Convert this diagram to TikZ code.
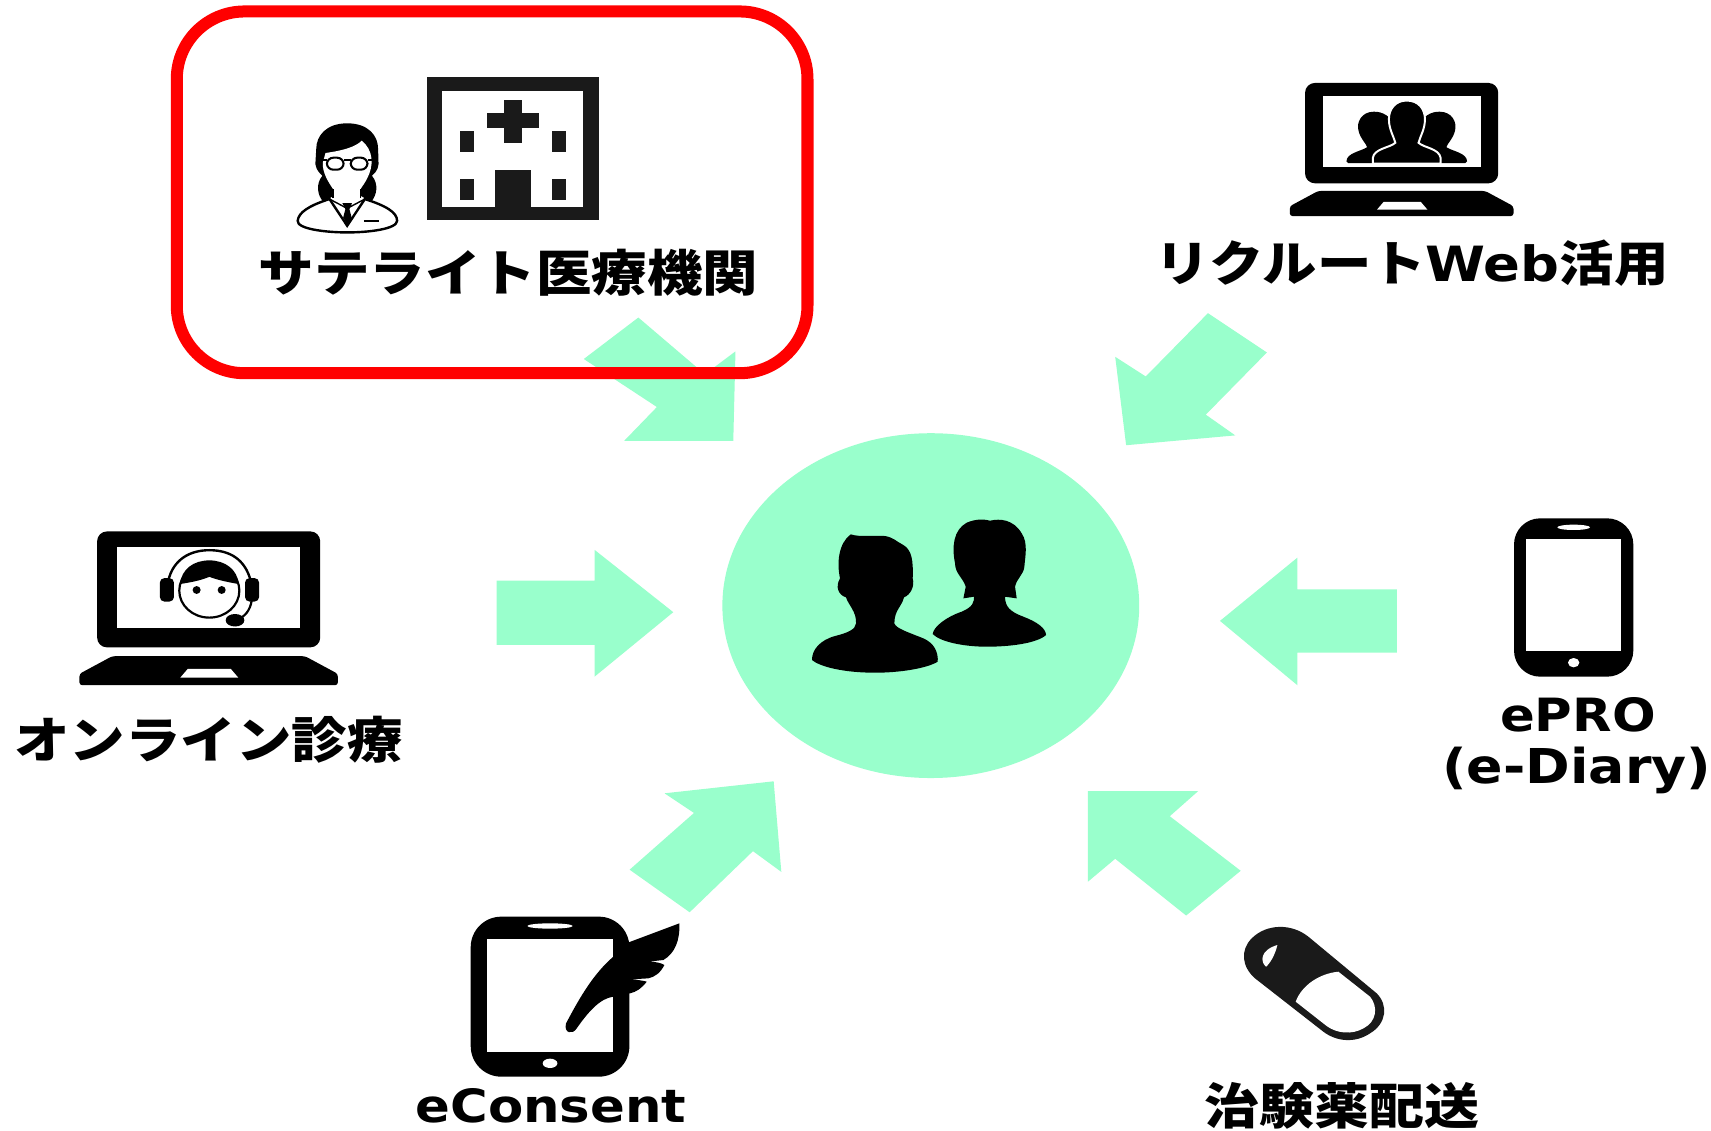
\documentclass[tikz,border=0pt]{standalone}
\usepackage{fontspec}
\usetikzlibrary{shapes.geometric}
\newfontfamily\jpf{Noto Sans CJK JP}[FakeStretch=1.12]
\newfontfamily\laf{DejaVu Sans}[FakeStretch=1.12]
\definecolor{mint}{HTML}{99FFCC}
\definecolor{ink}{HTML}{1A1A1A}
\tikzset{
  blockarrow/.style={fill=mint,draw=none},
  hub/.style={ellipse,fill=mint,draw=none,inner sep=0pt,minimum width=382pt,minimum height=316pt},
  framebox/.style={draw=red,line width=11pt,rounded corners=62pt},
  jplabel/.style={inner sep=0pt,font=\jpf\bfseries\fontsize{45.4}{50}\selectfont,text=black},
  jpmid/.style={inner sep=0pt,font=\jpf\bfseries\fontsize{45}{50}\selectfont,text=black},
  jpsmall/.style={inner sep=0pt,font=\jpf\bfseries\fontsize{44.5}{48}\selectfont,text=black},
  latinlabel/.style={inner sep=0pt,font=\laf\bfseries\fontsize{42}{46}\selectfont,text=black},
  latinwide/.style={inner sep=0pt,font=\laf\bfseries\fontsize{44}{48}\selectfont,text=black},
}
\newcommand{\laptopicon}[3]{%
  \begin{scope}[shift={(#1,#2)},scale=#3]
    \fill[black,rounded corners=9pt] (0,0) rectangle (177,92);
    \fill[white] (16,12) rectangle (161,77);
    \fill[black,rounded corners=2.5pt] (12,99) -- (165,99) -- (191,113) -- (191,122) -- (-14,122) -- (-14,113) -- cycle;
    \fill[white] (72,109) -- (106,109) -- (112,116) -- (66,116) -- cycle;
  \end{scope}}
\begin{document}
\begin{tikzpicture}[x=1pt,y=-1pt]
\useasboundingbox (0,0) rectangle (1568,1035.6);
\fill[white] (0,0) rectangle (1568,1035.6);
% block arrows
\fill[blockarrow] (585,291) -- (646,343) -- (674,322) -- (672,404) -- (572,404) -- (602,373) -- (535,329) -- cycle;
\fill[blockarrow] (1107,287) -- (1161,323) -- (1105,380) -- (1132,399) -- (1032,408) -- (1022,327) -- (1050,345) -- cycle;
\fill[blockarrow] (455,532) -- (545,532) -- (545,504) -- (617,561) -- (545,620) -- (545,591) -- (455,591) -- cycle;
\fill[blockarrow] (1280,540) -- (1189,540) -- (1189,511) -- (1118,569) -- (1189,628) -- (1189,598) -- (1280,598) -- cycle;
\fill[blockarrow] (577,797) -- (632,836) -- (690,780) -- (716,799) -- (709,716) -- (609,727) -- (636,745) -- cycle;
\fill[blockarrow] (1137,798) -- (1087,839) -- (1022,787) -- (997,808) -- (997,725) -- (1098,725) -- (1072,748) -- cycle;
% centre
\node[hub] (centre) at (853,555) {};
\begin{scope}[shift={(696.5,439.9)},x=.3055pt,y=-.3055pt]
\fill[black] (272,163) .. controls (300,172) and (340,165) .. (375,168) .. controls (400,172) and (410,185) .. (430,195) .. controls (455,210) and (460,240) .. (458,295) .. controls (465,320) and (450,345) .. (432,352) .. controls (425,380) and (403,390) .. (403,430) .. controls (408,445) and (440,455) .. (490,475) .. controls (525,490) and (535,520) .. (533,545) .. controls (500,565) and (420,578) .. (345,578) .. controls (250,578) and (180,560) .. (156,540) .. controls (155,510) and (180,480) .. (225,468) .. controls (265,458) and (286,448) .. (288,430) .. controls (290,395) and (265,375) .. (258,352) .. controls (235,345) and (225,320) .. (240,295) .. controls (230,250) and (235,190) .. (272,163) -- cycle;
\fill[black] (690,122) .. controls (720,115) and (760,118) .. (785,160) .. controls (805,190) and (795,230) .. (793,260) .. controls (790,285) and (770,295) .. (765,320) -- (770,355) -- (735,350) .. controls (735,380) and (750,395) .. (790,410) .. controls (830,425) and (858,445) .. (858,465) .. controls (830,490) and (750,500) .. (680,500) .. controls (610,500) and (540,485) .. (518,462) .. controls (520,440) and (560,410) .. (605,395) .. controls (640,380) and (642,365) .. (642,350) -- (610,355) -- (617,320) .. controls (610,295) and (585,280) .. (585,250) .. controls (575,200) and (580,150) .. (620,128) .. controls (650,115) and (675,118) .. (690,122) -- cycle;
\end{scope}
% red frame
\draw[framebox] (162,10.5) rectangle (740,342);
% hospital
\fill[ink] (391,71) rectangle (549,202);
\fill[white] (405.5,83) rectangle (534.5,190);
\fill[ink] (446.5,104) rectangle (493.5,117);
\fill[ink] (461.5,92) rectangle (478.5,131);
\fill[ink] (421.5,120.5) rectangle (434,139);
\fill[ink] (506,120.5) rectangle (518.5,139);
\fill[ink] (421.5,164) rectangle (434,183);
\fill[ink] (506,164) rectangle (518.5,183);
\fill[ink] (453.5,156) rectangle (486.5,191);
% doctor
\begin{scope}[shift={(143.2,-1.06)},x=.405pt,y=-.3058pt]
\draw[fill=white,draw=black,line width=2.2pt] (320,665) .. controls (322,640) and (345,620) .. (392,600) -- (432,680) -- (472,600) .. controls (520,620) and (545,640) .. (545,665) .. controls (545,690) and (480,700) .. (432,700) .. controls (385,700) and (318,690) .. (320,665) -- cycle;
\fill[black] (432,373) .. controls (385,373) and (362,410) .. (362,450) -- (360,495) .. controls (362,515) and (372,525) .. (376,530) .. controls (360,555) and (365,590) .. (378,608) -- (402,590) .. controls (405,570) and (395,545) .. (396,530) -- (468,530) .. controls (470,545) and (460,570) .. (462,590) -- (486,608) .. controls (499,590) and (504,555) .. (488,530) .. controls (492,525) and (502,515) .. (503,495) -- (502,450) .. controls (502,410) and (480,373) .. (432,373) -- cycle;
\fill[white] (383,462) .. controls (420,455) and (450,445) .. (465,425) .. controls (478,440) and (485,455) .. (487,480) .. controls (490,520) and (470,555) .. (462,570) -- (462,600) -- (432,625) -- (400,600) -- (400,570) .. controls (390,550) and (375,520) .. (377,490) -- cycle;
\draw[black,line width=1.3pt] (392,600) -- (432,628) -- (472,600);
\draw[black,line width=1.3pt] (400,570) -- (400,598) (462,570) -- (462,598);
\fill[black] (421,612) -- (443,612) -- (437,630) -- (442,655) -- (432,678) -- (423,655) -- (428,630) -- cycle;
\draw[black,line width=1.6pt] (470,665) -- (503,665);
\draw[black,line width=1.9pt,rounded corners=6pt] (386,476) rectangle (424,512);
\draw[black,line width=1.9pt,rounded corners=6pt] (440,476) rectangle (478,512);
\draw[black,line width=1.9pt] (368,484) -- (386,484) (424,484) -- (440,484) (478,484) -- (496,484);
\end{scope}
\node[jplabel] (satellite) at (466,250) {サテライト医療機関};
% recruit laptop
\laptopicon{1196}{76}{1}
\begin{scope}[shift={(1044.9,55)},x=.327pt,y=-.3095pt]
\fill[black] (655,153) .. controls (620,153) and (605,185) .. (612,210) .. controls (618,235) and (632,245) .. (636,258) .. controls (620,270) and (578,275) .. (578,300) -- (583,305) -- (720,305) -- (720,200) .. controls (700,165) and (680,153) .. (655,153) -- cycle;
\fill[black] (839,153) .. controls (874,153) and (889,185) .. (882,210) .. controls (876,235) and (862,245) .. (858,258) .. controls (874,270) and (916,275) .. (916,300) -- (911,305) -- (774,305) -- (774,200) .. controls (794,165) and (814,153) .. (839,153) -- cycle;
\draw[fill=black,draw=white,line width=1.8pt] (747,120) .. controls (715,120) and (697,145) .. (697,175) .. controls (697,205) and (710,225) .. (715,245) .. controls (700,260) and (655,262) .. (652,290) -- (652,307) -- (842,307) -- (842,290) .. controls (838,262) and (795,260) .. (780,245) .. controls (785,225) and (798,205) .. (798,175) .. controls (798,145) and (780,120) .. (747,120) -- cycle;
\end{scope}
\node[jpsmall] (recruit) at (1294,241) {リクルート{\laf Web}活用};
% online laptop
\laptopicon{89}{487}{1.155}
\begin{scope}[shift={(-0.35,459.9)},x=.306pt,y=-.3014pt]
\draw[black,line width=2.2pt] (505,240) .. controls (520,175) and (570,147) .. (628,147) .. controls (690,147) and (735,175) .. (752,240);
\fill[black,rounded corners=4pt] (480,232) rectangle (522,303);
\fill[black,rounded corners=4pt] (735,232) rectangle (777,303);
\draw[black,line width=2pt] (628,270) ellipse [x radius=90,y radius=82];
\fill[black] (540,250) .. controls (545,205) and (580,178) .. (628,178) .. controls (675,178) and (712,205) .. (716,250) .. controls (690,245) and (660,240) .. (628,228) .. controls (600,240) and (570,245) .. (540,250) -- cycle;
\fill[black] (590,268) circle [x radius=12,y radius=12];
\fill[black] (665,268) circle [x radius=12,y radius=12];
\draw[black,line width=2pt] (755,300) .. controls (750,330) and (735,350) .. (710,358);
\fill[black] (705,360) ellipse [x radius=28,y radius=19];
\end{scope}
\node[jplabel] (online) at (191,678) {オンライン診療};
% ePRO phone
\begin{scope}[shift={(1301.3,458.2)},x=.3055pt,y=-.3055pt]
\fill[black,rounded corners=24pt] (282,55) rectangle (640,530);
\fill[white] (318,118) rectangle (603,453);
\fill[white] (461,82) ellipse [x radius=49,y radius=8];
\fill[white] (461,488) ellipse [x radius=17,y radius=14];
\end{scope}
\node[latinlabel] (epro) at (1446,655) {ePRO};
\node[latinwide] (ediary) at (1445,706) {(e-Diary)};
% eConsent tablet
\begin{scope}[shift={(366.6,815.6)},x=.3055pt,y=-.3055pt]
\fill[black,rounded corners=28pt] (212,80) rectangle (688,560);
\fill[white] (260,147) rectangle (640,485);
\fill[white] (450,108) ellipse [x radius=68,y radius=8];
\fill[white] (450,520) ellipse [x radius=22,y radius=14];
\fill[black] (686,157) -- (838,100) .. controls (840,150) and (825,190) .. (790,210) -- (745,215) .. controls (770,215) and (785,220) .. (793,225) .. controls (780,250) and (765,260) .. (745,265) -- (695,268) .. controls (715,270) and (730,272) .. (740,275) .. controls (725,295) and (710,305) .. (690,310) -- (640,320) .. controls (600,325) and (565,365) .. (530,415) .. controls (518,435) and (490,430) .. (498,400) .. controls (530,340) and (575,255) .. (640,200) -- cycle;
\end{scope}
\node[latinlabel] (econsent) at (505,1013) {eConsent};
% capsule
\begin{scope}[shift={(1081.4,824.8)},x=.3055pt,y=-.3055pt]
\fill[ink] (385,110) -- (590,280) .. controls (625,315) and (620,370) .. (570,400) .. controls (525,430) and (470,425) .. (430,395) -- (225,235) .. controls (185,200) and (180,150) .. (215,115) .. controls (260,70) and (335,70) .. (385,110) -- cycle;
\fill[white] (475,215) -- (570,290) .. controls (595,320) and (590,365) .. (550,385) .. controls (515,405) and (470,400) .. (440,378) -- (347,305) .. controls (365,255) and (420,220) .. (475,215) -- cycle;
\fill[white] (292,135) .. controls (285,165) and (270,190) .. (258,200) .. controls (240,185) and (240,150) .. (292,135) -- cycle;
\end{scope}
\node[jpmid] (delivery) at (1230,1013) {治験薬配送};
\end{tikzpicture}
\end{document}
